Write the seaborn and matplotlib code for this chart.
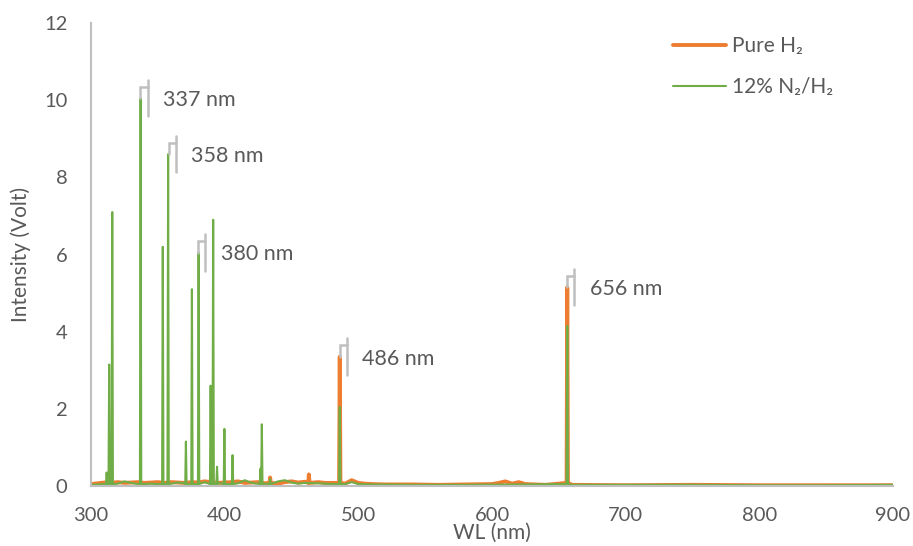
import matplotlib
matplotlib.use("Agg")
import matplotlib.pyplot as plt
import numpy as np
import pandas as pd
import seaborn as sns

# ---- emission lines (nm, Volt) ----
h2_peak_wl = [434.0, 463.0, 486.1, 656.3]
h2_peak_int = [0.22, 0.30, 3.35, 5.15]

n2h2_peak_wl = [311.7, 313.6, 315.9, 337.1, 353.7, 357.7, 371.0, 375.5, 380.5,
                389.5, 391.4, 394.3, 399.8, 405.9, 426.8, 427.8, 434.0, 486.1, 656.3]
n2h2_peak_int = [0.35, 3.15, 7.10, 10.05, 6.20, 8.60, 1.15, 5.10, 6.05,
                 2.60, 6.90, 0.50, 1.48, 0.80, 0.45, 1.60, 0.18, 2.05, 4.15]

# ---- continuum between lines ----
h2_base_wl = [300, 305, 310, 315, 320, 325, 330, 335, 340, 345, 350, 355, 360, 365,
              370, 375, 380, 385, 390, 395, 400, 405, 410, 415, 420, 425, 430, 440,
              445, 450, 455, 460, 470, 475, 480, 490, 495, 500, 505, 510, 520, 540,
              560, 580, 600, 605, 610, 615, 620, 625, 640, 660, 700, 750, 800, 850, 900]
h2_base_int = [0.05, 0.07, 0.09, 0.08, 0.10, 0.08, 0.09, 0.10, 0.08, 0.09, 0.10, 0.08,
               0.10, 0.09, 0.08, 0.10, 0.09, 0.12, 0.10, 0.08, 0.09, 0.10, 0.12, 0.08,
               0.09, 0.10, 0.07, 0.06, 0.10, 0.12, 0.09, 0.11, 0.10, 0.08, 0.08, 0.06,
               0.15, 0.08, 0.06, 0.05, 0.04, 0.04, 0.03, 0.04, 0.05, 0.08, 0.12, 0.06,
               0.10, 0.05, 0.03, 0.03, 0.02, 0.03, 0.02, 0.02, 0.02]

n2h2_base_wl = [300, 305, 310, 320, 325, 330, 335, 340, 345, 350, 360, 365, 370, 385,
                395, 410, 415, 420, 430, 440, 445, 450, 455, 460, 470, 480, 490, 495,
                500, 510, 540, 580, 620, 660, 700, 750, 800, 850, 900]
n2h2_base_int = [0.03, 0.04, 0.05, 0.06, 0.12, 0.08, 0.05, 0.05, 0.06, 0.05, 0.06, 0.09,
                 0.07, 0.10, 0.08, 0.07, 0.15, 0.08, 0.06, 0.12, 0.15, 0.09, 0.06, 0.08,
                 0.07, 0.05, 0.05, 0.10, 0.05, 0.04, 0.03, 0.03, 0.04, 0.03, 0.03, 0.03,
                 0.02, 0.02, 0.03]

label_lines = [337, 358, 380, 486, 656]
label_heights = [10.05, 8.60, 6.05, 3.35, 5.15]

ORANGE = "#ED7D31"
GREEN = "#70AD47"
GREY_LINE = "#BFBFBF"
TEXT = "#595959"


def build_spectrum(base_wl, base_int, peak_wl, peak_int, foot):
    """Merge the continuum with narrow line profiles (foot, top, foot)."""
    wl = list(base_wl)
    val = list(base_int)
    for w, h in zip(peak_wl, peak_int):
        wl += [w - 0.5, w, w + 0.5]
        val += [foot, h, foot]
    return pd.DataFrame({"WL": wl, "I": val}).sort_values("WL")


h2 = build_spectrum(h2_base_wl, h2_base_int, h2_peak_wl, h2_peak_int, 0.08)
n2 = build_spectrum(n2h2_base_wl, n2h2_base_int, n2h2_peak_wl, n2h2_peak_int, 0.05)

sns.set_style("white")
plt.rcParams["font.family"] = ["Lato", "DejaVu Sans"]

W, H = 913, 546
fig = plt.figure(figsize=(W / 100, H / 100), dpi=100)
ax = fig.add_axes([91 / W, 1 - 486 / H, 802 / W, 463 / H])

sns.lineplot(data=h2, x="WL", y="I", ax=ax, color=ORANGE, lw=2.8,
             label="Pure H\u2082", sort=False, estimator=None)
sns.lineplot(data=n2, x="WL", y="I", ax=ax, color=GREEN, lw=1.5,
             label="12% N\u2082/H\u2082", sort=False, estimator=None)

# bracket callouts for the labelled lines
for w, h in zip(label_lines, label_heights):
    xr = w + 5.5
    ax.plot([w, w, xr], [h, h + 0.3, h + 0.3], color=GREY_LINE, lw=1.8,
            solid_joinstyle="miter", zorder=3)
    ax.plot([xr, xr], [h + 0.48, h - 0.47], color=GREY_LINE, lw=1.8, zorder=3)
    ax.text(w + 17, h - 0.05, f"{w} nm", color=TEXT, fontsize=15.5,
            va="center", ha="left")

ax.set_xlim(300, 900)
ax.set_ylim(0, 12)
ax.set_xticks(range(300, 901, 100))
ax.set_yticks(range(0, 13, 2))
ax.tick_params(axis="both", length=0, labelsize=14.5, labelcolor=TEXT)
ax.tick_params(axis="x", pad=15)
ax.tick_params(axis="y", pad=17)

ax.set_xlabel("WL (nm)", fontsize=15, color=TEXT)
ax.xaxis.label.set_va("center")
ax.xaxis.set_label_coords(0.5, (486 - 533) / 463)
ax.set_ylabel("Intensity (Volt)", fontsize=15, color=TEXT)
ax.yaxis.label.set_va("center")
ax.yaxis.set_label_coords((21 - 91) / 802, 0.5)

for side in ["top", "right"]:
    ax.spines[side].set_visible(False)
for side in ["left", "bottom"]:
    ax.spines[side].set_color(GREY_LINE)
    ax.spines[side].set_linewidth(1.5)

leg = ax.legend(loc="upper left", bbox_to_anchor=(673 / W, 1 - 36 / H),
                bbox_transform=fig.transFigure, frameon=False, fontsize=15,
                handlelength=2.55, labelspacing=1.0, handletextpad=0.3,
                borderpad=0, borderaxespad=0)
for t in leg.get_texts():
    t.set_color(TEXT)

fig.savefig("out.png", dpi=100, facecolor="white")
